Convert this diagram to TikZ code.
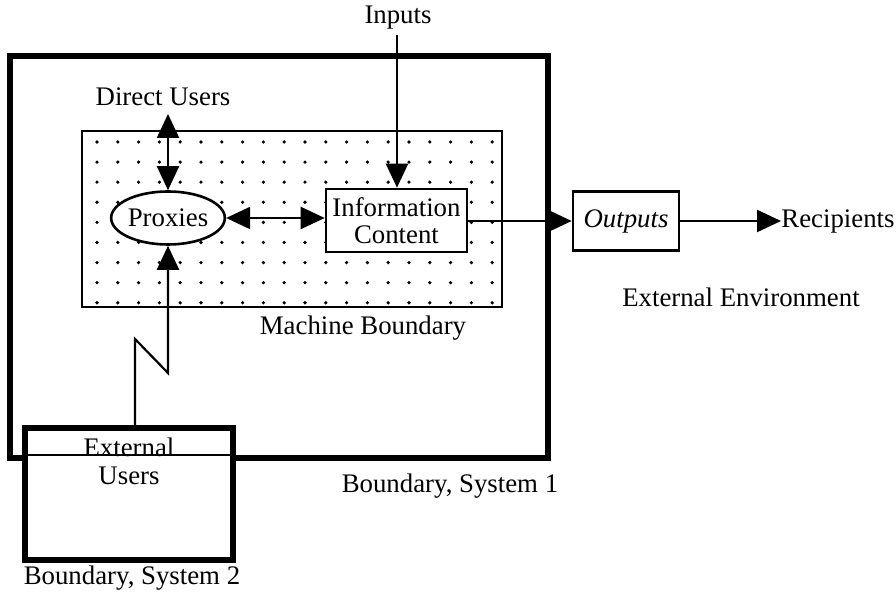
\documentclass[tikz,border=0pt]{standalone}
\usepackage{fontspec}
\setmainfont{Liberation Serif}
\usetikzlibrary{arrows.meta,shapes.geometric}
\begin{document}
\begin{tikzpicture}[x=0.5pt,y=-0.5pt,
  font=\fontsize{13.4}{13.5}\selectfont,
  arr/.style={line width=1.1pt,-{Triangle[length=12pt,width=11pt]}},
  darr/.style={line width=1.1pt,{Triangle[length=12pt,width=11pt]}-{Triangle[length=12pt,width=11pt]}},
  sysline/.style={line width=2.7pt},
  boxline/.style={draw,line width=1.3pt,fill=white},
  lbl/.style={inner sep=0pt},
  dotfill/.style={fill=black}]
\useasboundingbox (0,0) rectangle (896,597);
% Boundary, System 1
\draw[sysline] (10,56) rectangle (548,458);
% Machine boundary with dot screen
\draw[line width=1.3pt,fill=white] (82,131) rectangle (502,307);
\foreach \i in {0,...,19}{
  \foreach \j in {0,...,8}{
    \fill[dotfill] (97+20.8*\i,142+20.1*\j) circle[radius=0.9pt];
  }
}
% nodes
\node[boxline,ellipse,minimum width=55pt,minimum height=26.5pt,inner sep=0pt] (prox) at (168,218) {Proxies};
\node[boxline,minimum width=70.5pt,minimum height=31.5pt,inner sep=0pt,align=center] (info) at (396.5,220.5) {Information\\Content};
\node[boxline,minimum width=53pt,minimum height=29.5pt,inner sep=0pt] (out) at (626,221) {\itshape Outputs};
\node[lbl,anchor=west] (rec) at (781,221) {Recipients};
\node[lbl] (inp) at (398,18) {Inputs};
\node[lbl] (du) at (163,97) {Direct Users};
\node[lbl] (mb) at (363,328) {Machine Boundary};
\node[lbl] (env) at (741,297) {External Environment};
\node[lbl] (bs1) at (450,486) {Boundary, System 1};
% External users box (System 2)
\node[draw,sysline,fill=white,minimum width=104pt,minimum height=66pt,inner sep=0pt] (ext) at (129,494) {};
\draw[line width=0.6pt] (ext.west |- 0,455) -- (ext.east |- 0,455);
\node[lbl,anchor=base] (extA) at (129,457) {External};
\node[lbl,anchor=base] (extB) at (129,485) {Users};
\node[lbl] (bs2) at (132,578) {Boundary, System 2};
% connectors
\coordinate (dutip) at (168,114);
\coordinate (inptop) at (397,35);
\coordinate (z1) at (135,339);
\coordinate (z2) at (168,373);
\draw[darr] (dutip) -- (prox.north);
\draw[arr] (inptop) -- (inptop |- info.north);
\draw[darr] (prox.east) -- (prox.east -| info.west);
\draw[arr] (info.east |- out.west) -- (out.west);
\draw[arr] (out.east) -- (rec.west);
\draw[arr] (ext.north -| z1) -- (z1) -- (z2) -- (prox.south);
\end{tikzpicture}
\end{document}
